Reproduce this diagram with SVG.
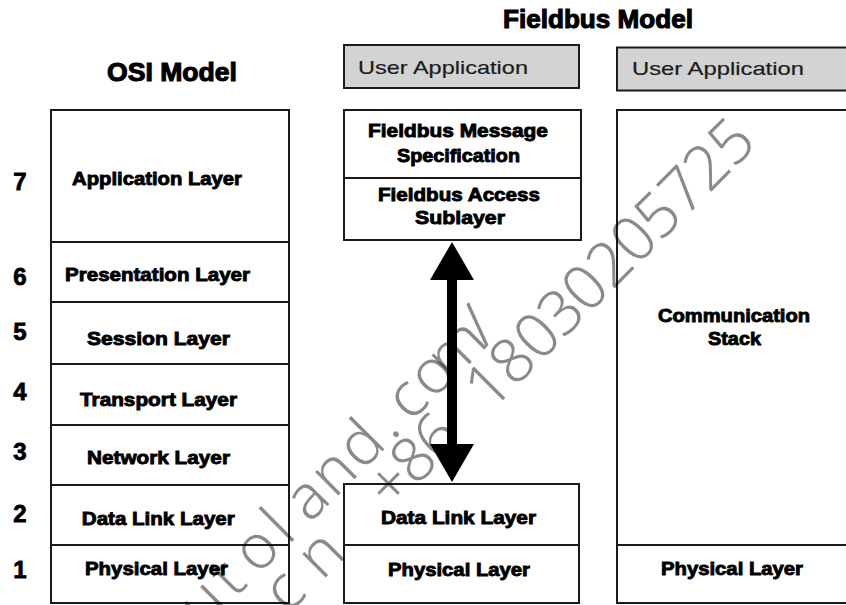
<svg xmlns="http://www.w3.org/2000/svg" width="846" height="605" viewBox="0 0 846 605">
<style>
.box{fill:#fff;stroke:#1a1a1a;stroke-width:2}
.ua{fill:#d3d3d3;stroke:#1a1a1a;stroke-width:2}
.lbl{font-family:"Liberation Sans",Arial,sans-serif;font-weight:bold;font-size:19px;text-anchor:middle;fill:#000;stroke:#000;stroke-width:0.9}
.ttl{font-family:"Liberation Sans",Arial,sans-serif;font-weight:bold;font-size:26px;text-anchor:middle;fill:#000;stroke:#000;stroke-width:1.1}
.num{font-family:"Liberation Sans",Arial,sans-serif;font-weight:bold;font-size:24px;text-anchor:middle;fill:#000;stroke:#000;stroke-width:0.8}
.uat{font-family:"Liberation Sans",Arial,sans-serif;font-size:19px;fill:#1c1c1c;stroke:#1c1c1c;stroke-width:0.2}
.wm{font-family:"Noto Sans","Open Sans",sans-serif;font-weight:300;font-size:62px;fill:#000;fill-opacity:0.46;text-anchor:middle}
.arrow{stroke:#000;stroke-width:10;fill:none}
</style>
<defs>
<marker id="ah" viewBox="0 0 38 44" refX="1" refY="22" markerWidth="38" markerHeight="44" markerUnits="userSpaceOnUse" orient="auto-start-reverse"><path d="M0,0 L38,22 L0,44 z" fill="#000"/></marker>
</defs>
<rect width="846" height="605" fill="#fff"/>

<g id="osi-title"><text class="ttl" x="172" y="81" textLength="130" lengthAdjust="spacingAndGlyphs">OSI Model</text></g>
<g id="fieldbus-title"><text class="ttl" x="598" y="28" textLength="190" lengthAdjust="spacingAndGlyphs">Fieldbus Model</text></g>

<g id="layer-numbers">
<text class="num" x="20" y="190">7</text>
<text class="num" x="20" y="285">6</text>
<text class="num" x="20" y="340">5</text>
<text class="num" x="20" y="400">4</text>
<text class="num" x="20" y="460">3</text>
<text class="num" x="20" y="522">2</text>
<text class="num" x="20" y="578">1</text>
</g>

<g id="osi-application"><rect class="box" x="51" y="110" width="238" height="132"/><text class="lbl" x="157" y="185" textLength="170" lengthAdjust="spacingAndGlyphs">Application Layer</text></g>
<g id="osi-presentation"><rect class="box" x="51" y="242" width="238" height="60"/><text class="lbl" x="157.5" y="281" textLength="185" lengthAdjust="spacingAndGlyphs">Presentation Layer</text></g>
<g id="osi-session"><rect class="box" x="51" y="302" width="238" height="62"/><text class="lbl" x="158.5" y="345" textLength="143" lengthAdjust="spacingAndGlyphs">Session Layer</text></g>
<g id="osi-transport"><rect class="box" x="51" y="364" width="238" height="61"/><text class="lbl" x="158.5" y="406" textLength="157" lengthAdjust="spacingAndGlyphs">Transport Layer</text></g>
<g id="osi-network"><rect class="box" x="51" y="425" width="238" height="60"/><text class="lbl" x="158.5" y="464" textLength="143" lengthAdjust="spacingAndGlyphs">Network Layer</text></g>
<g id="osi-datalink"><rect class="box" x="51" y="485" width="238" height="60"/><text class="lbl" x="158.3" y="525" textLength="153" lengthAdjust="spacingAndGlyphs">Data Link Layer</text></g>
<g id="osi-physical"><rect class="box" x="51" y="545" width="238" height="58"/><text class="lbl" x="156.5" y="575" textLength="143" lengthAdjust="spacingAndGlyphs">Physical Layer</text></g>

<g id="user-app-1"><rect class="ua" x="344" y="45" width="235" height="43"/><text class="uat" x="358" y="73.5" textLength="170" lengthAdjust="spacingAndGlyphs">User Application</text></g>
<g id="fms"><rect class="box" x="344" y="110" width="237" height="68"/><text class="lbl" x="458" y="137" textLength="180" lengthAdjust="spacingAndGlyphs">Fieldbus Message</text><text class="lbl" x="458.5" y="162" textLength="123" lengthAdjust="spacingAndGlyphs">Specification</text></g>
<g id="fas"><rect class="box" x="344" y="178" width="237" height="62"/><text class="lbl" x="459" y="201" textLength="162" lengthAdjust="spacingAndGlyphs">Fieldbus Access</text><text class="lbl" x="460" y="224" textLength="90" lengthAdjust="spacingAndGlyphs">Sublayer</text></g>
<g id="fb-datalink"><rect class="box" x="344" y="484" width="235" height="61"/><text class="lbl" x="458.5" y="524" textLength="155" lengthAdjust="spacingAndGlyphs">Data Link Layer</text></g>
<g id="fb-physical"><rect class="box" x="344" y="545" width="235" height="58"/><text class="lbl" x="459" y="576" textLength="142" lengthAdjust="spacingAndGlyphs">Physical Layer</text></g>

<g id="user-app-2"><rect class="ua" x="617" y="47.5" width="240" height="43"/><text class="uat" x="632" y="75" textLength="172" lengthAdjust="spacingAndGlyphs">User Application</text></g>
<g id="comm-stack"><rect class="box" x="617" y="110" width="240" height="435"/><text class="lbl" x="734" y="322" textLength="152" lengthAdjust="spacingAndGlyphs">Communication</text><text class="lbl" x="734.5" y="345" textLength="53" lengthAdjust="spacingAndGlyphs">Stack</text></g>
<g id="fb-physical-2"><rect class="box" x="617" y="545" width="240" height="58"/><text class="lbl" x="732" y="575" textLength="142" lengthAdjust="spacingAndGlyphs">Physical Layer</text></g>

<g id="connectors">
<line class="arrow" x1="452" y1="445" x2="452" y2="279" marker-start="url(#ah)" marker-end="url(#ah)"/>
</g>

<g id="watermark">
<text class="wm" transform="translate(416.8,416.8) rotate(-45)" x="-283 -247.5 -207 -175 -135 -98 -59 -27 6 41 76 108" y="0">utoland.com/</text>
<text class="wm" transform="translate(451.5,451.5) rotate(-45)" x="-217 -165 -120 -67 -33 0 35 73 107 142 176 210 245 279 313 348 382 417" y="0">cn +86 18030205725</text>
</g>
</svg>
